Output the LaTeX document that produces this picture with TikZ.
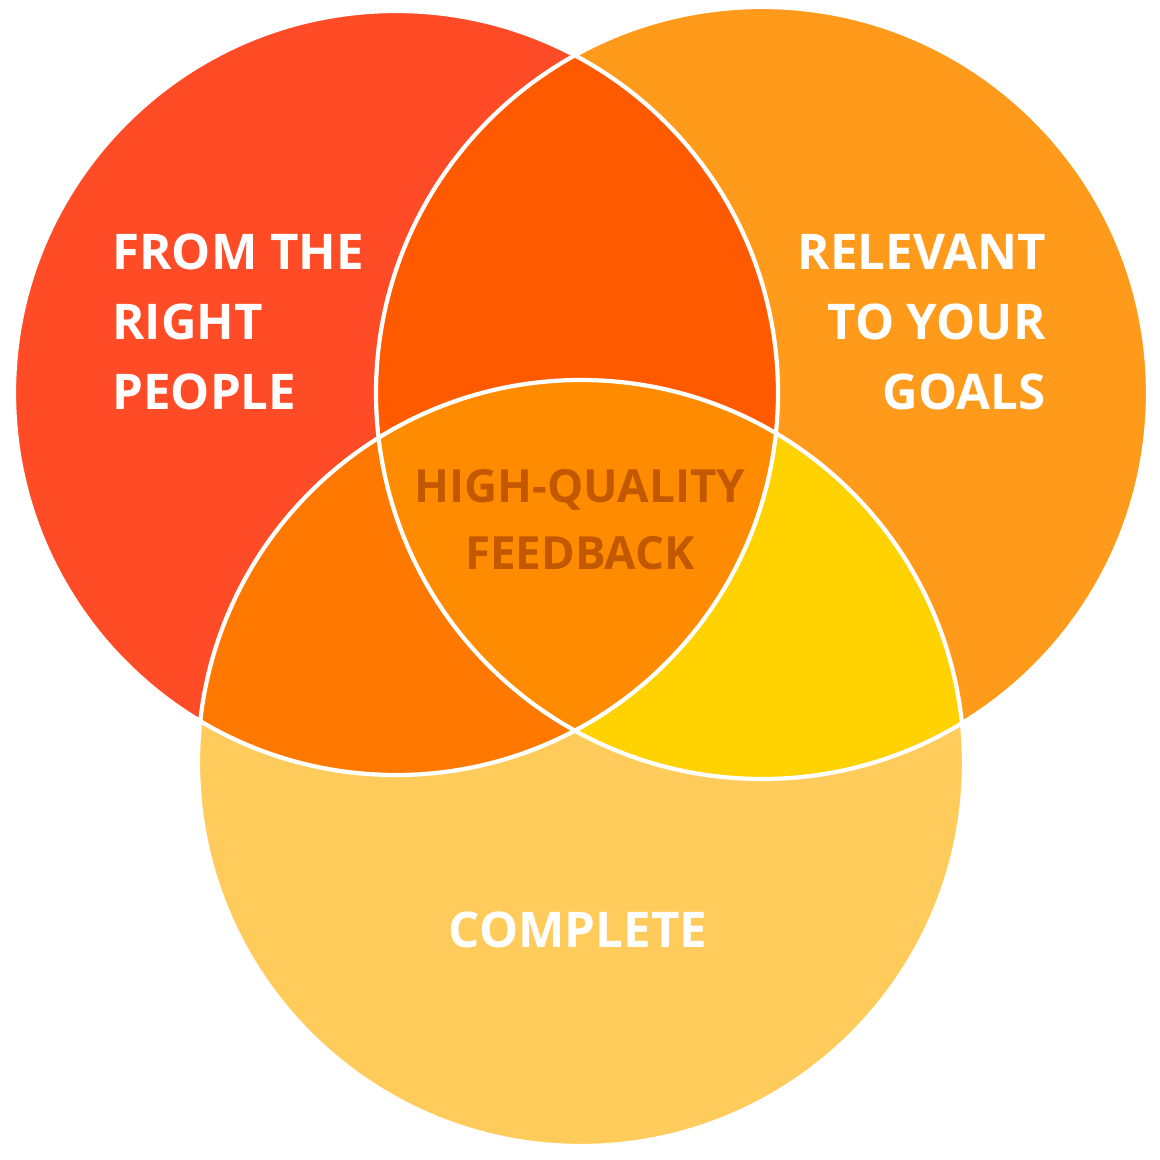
\documentclass[tikz,border=0pt]{standalone}
\usepackage{fontspec}
\setmainfont{Open Sans}
\definecolor{leftc}{HTML}{FF4B26}
\definecolor{rightc}{HTML}{FF9A1A}
\definecolor{bottomc}{HTML}{FFCC5C}
\definecolor{lrc}{HTML}{FF5A00}
\definecolor{lbc}{HTML}{FF7800}
\definecolor{rbc}{HTML}{FFD200}
\definecolor{allc}{HTML}{FF8C00}
\definecolor{midtext}{HTML}{C25800}
\tikzset{
  label/.style={font=\fontsize{14}{20}\selectfont\bfseries,text=white},
  rim/.style={draw=white,line width=1.2pt}
}
\begin{document}
\begin{tikzpicture}
  \useasboundingbox (0,0) rectangle (11.6,11.6);
  \fill[white] (0,0) rectangle (11.6,11.6);
  %circles
  \coordinate (L) at (3.96,7.67);
  \coordinate (R) at (7.62,7.67);
  \coordinate (B) at (5.81,3.97);
  \fill[leftc] (L) circle (3.82);
  \fill[rightc] (R) circle (3.86);
  \fill[bottomc] (B) circle (3.83);
  %overlaps
  \begin{scope}
    \clip (L) circle (3.82);
    \fill[lrc] (R) circle (3.86);
    \fill[lbc] (B) circle (3.83);
  \end{scope}
  \begin{scope}
    \clip (R) circle (3.86);
    \fill[rbc] (B) circle (3.83);
    \clip (L) circle (3.82);
    \fill[allc] (B) circle (3.83);
  \end{scope}
  \draw[rim] (L) circle (3.82);
  \draw[rim] (R) circle (3.86);
  \draw[rim] (B) circle (3.83);
  %labels
  \node[label,anchor=west,align=left] (people) at (1.0,8.38) {FROM THE\\RIGHT\\PEOPLE};
  \node[label,anchor=east,align=right] (goals) at (10.58,8.38) {RELEVANT\\TO YOUR\\GOALS};
  \node[label] (complete) at (5.78,2.3) {COMPLETE};
  \node[font=\fontsize{13}{19}\selectfont\bfseries,text=midtext,align=center] (quality) at (5.8,6.4) {HIGH-QUALITY\\FEEDBACK};
\end{tikzpicture}
\end{document}
